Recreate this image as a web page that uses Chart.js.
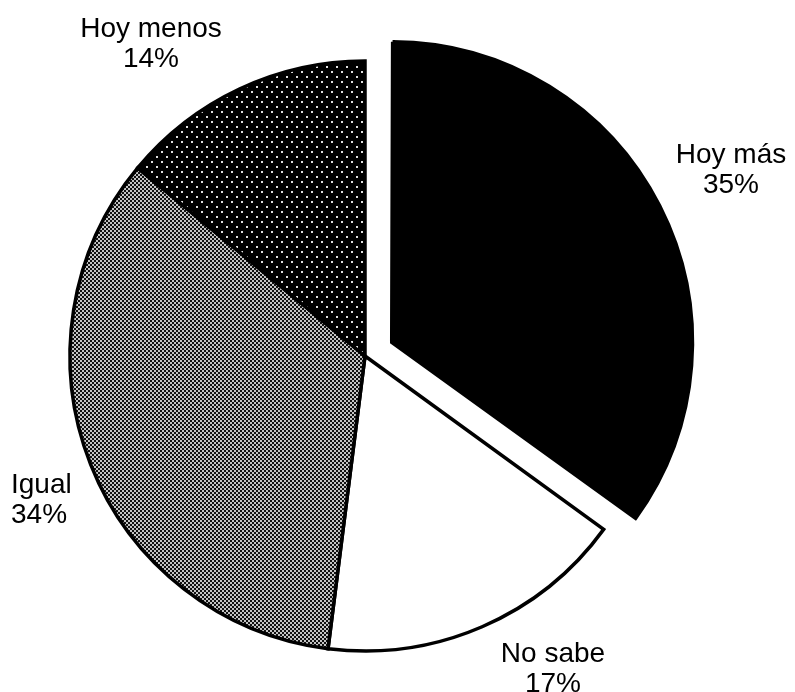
<!DOCTYPE html>
<html>
<head>
<meta charset="utf-8">
<script src="https://cdn.jsdelivr.net/npm/chart.js@4/dist/chart.umd.min.js"></script>
<style>
  html, body { margin: 0; padding: 0; background: #fff; }
  #wrap { width: 795px; height: 692px; }
</style>
</head>
<body>
<div id="wrap"><canvas id="chart"></canvas></div>
<script>
// data
const categories = ['Hoy más', 'No sabe', 'Igual', 'Hoy menos'];
const values = [35, 17, 34, 14];
const offsets = [120, 0, 0, 0]; // Chart.js v4 draws offset / 4 -> 30px

// dotted black pattern (Hoy menos)
function dotPattern() {
  const c = document.createElement('canvas');
  c.width = 10; c.height = 10;
  const g = c.getContext('2d');
  g.fillStyle = '#000';
  g.fillRect(0, 0, 10, 10);
  g.fillStyle = '#e0e0e0';
  g.fillRect(1, 1, 2, 2);
  g.fillRect(6, 6, 2, 2);
  return g.createPattern(c, 'repeat');
}

// fine checker pattern (Igual)
function checkerPattern() {
  const c = document.createElement('canvas');
  c.width = 4; c.height = 4;
  const g = c.getContext('2d');
  g.fillStyle = '#111';
  g.fillRect(0, 0, 4, 4);
  g.fillStyle = '#c4c4c4';
  g.fillRect(0, 0, 2, 2);
  g.fillRect(2, 2, 2, 2);
  return g.createPattern(c, 'repeat');
}

const fills = ['#000000', '#ffffff', checkerPattern(), dotPattern()];

// label anchors (layout only)
const labelPlugin = {
  id: 'sliceLabels',
  afterDraw(chart, args, opts) {
    const ctx = chart.ctx;
    ctx.save();
    ctx.fillStyle = '#000';
    ctx.font = '28px "Liberation Sans", Arial, sans-serif';
    ctx.textBaseline = 'alphabetic';
    opts.spots.forEach((s, i) => {
      ctx.textAlign = s.align;
      ctx.fillText(categories[i], s.x, s.y);
      ctx.fillText(values[i] + '%', s.x, s.y + 30);
    });
    ctx.restore();
  }
};

new Chart(document.getElementById('chart'), {
  type: 'pie',
  data: {
    labels: categories,
    datasets: [{
      data: values,
      backgroundColor: fills,
      borderColor: '#000',
      borderWidth: 3.5,
      borderJoinStyle: 'miter',
      offset: offsets
    }]
  },
  options: {
    responsive: true,
    maintainAspectRatio: false,
    animation: false,
    events: [],
    radius: 295,
    layout: { padding: { left: 0, right: 65, top: 20, bottom: 0 } },
    plugins: {
      legend: { display: false },
      tooltip: { enabled: false },
      sliceLabels: {
        spots: [
          { x: 731, y: 163, align: 'center' },
          { x: 553, y: 662, align: 'center' },
          { x: 11, y: 493, align: 'left' },
          { x: 151, y: 37, align: 'center' }
        ]
      }
    }
  },
  plugins: [labelPlugin]
});
</script>
</body>
</html>
